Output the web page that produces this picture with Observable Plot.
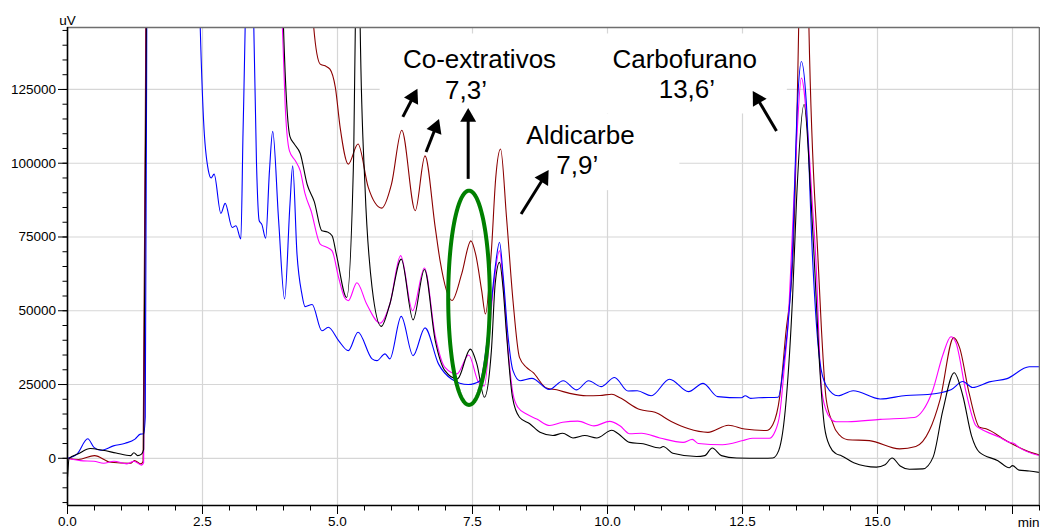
<!DOCTYPE html>
<html>
<head>
<meta charset="utf-8">
<script src="https://cdn.jsdelivr.net/npm/d3@7"></script>
<script src="https://cdn.jsdelivr.net/npm/@observablehq/plot@0.6"></script>
<style>
  html, body { margin: 0; padding: 0; background: #fff; }
  #chart { width: 1040px; height: 528px; }
</style>
</head>
<body>
<div id="chart"></div>
<script>
// Chromatogram traces: [retention time (min), detector signal (uV)]
const blueTrace = [
  [0,0],[0.18,1500],[0.375,6600],[0.49,3700],[0.62,2700],[0.85,4200],[1.07,5100],[1.25,6500],[1.35,8200],[1.41,8300],
  [1.44,14000],[1.47,160000],[1.5,400000],[2.0,600000],[2.35,260000],[2.42,175000],[2.46,144800],[2.52,114400],[2.61,97400],
  [2.66,95000],[2.715,96300],[2.84,83000],[2.92,86400],[3.05,78200],[3.12,78800],[3.21,74300],[3.25,110000],[3.29,146000],
  [3.37,300000],[3.45,146000],[3.5,100000],[3.55,80500],[3.6,79200],[3.67,74600],[3.74,97400],[3.8,110800],[3.91,80500],
  [4.02,54000],[4.12,86200],[4.17,99100],[4.25,69200],[4.34,55700],[4.4,51400],[4.53,52100],[4.71,43200],[4.83,44400],
  [5.02,39900],[5.2,36500],[5.38,42700],[5.64,33700],[5.73,33100],[5.88,35400],[5.97,33700],[6.18,48100],[6.4,34800],
  [6.62,44200],[6.87,32000],[7.11,26900],[7.42,25000],[7.64,26300],[7.82,47800],[7.92,64700],[8.0,73200],[8.07,61300],
  [8.16,41000],[8.25,29700],[8.38,26300],[8.6,27100],[8.92,23300],[9.18,26300],[9.43,23200],[9.65,26300],[9.88,24300],
  [10.13,27400],[10.38,22800],[10.55,22900],[10.81,21200],[11.15,26800],[11.5,22600],[11.77,25400],[12.04,20900],
  [12.48,20500],[12.55,21200],[12.65,20300],[12.8,20500],[13.16,20700],[13.27,33100],[13.42,66900],[13.52,121100],
  [13.59,134500],[13.68,121100],[13.8,66900],[13.93,33100],[14.05,24600],[14.27,21200],[14.55,22900],[15.05,20100],
  [15.53,21300],[15.93,21600],[16.36,23200],[16.58,26000],[16.76,24000],[17.07,25900],[17.4,27000],[17.81,31000],[18,31000]
];

const blackTrace = [
  [0,-6500],[0.03,0],[0.2,1500],[0.42,3300],[0.65,2700],[0.9,1800],[1.17,900],[1.23,1900],[1.3,900],[1.37,1400],[1.41,3000],
  [1.46,150000],[1.5,400000],[2.5,600000],[3.88,260000],[3.97,165000],[4.0,146000],[4.06,120000],[4.12,109000],[4.2,106500],
  [4.31,103300],[4.44,92700],[4.57,87000],[4.71,77100],[4.81,76700],[4.9,75400],[4.98,69000],[5.17,54500],[5.3,103100],
  [5.33,146000],[5.375,260000],[5.42,146000],[5.51,91800],[5.64,57900],[5.81,44700],[5.97,52300],[6.18,67500],[6.4,46900],
  [6.61,64000],[6.81,39900],[6.99,29700],[7.22,26900],[7.46,37000],[7.58,32000],[7.72,20700],[7.85,36500],[7.92,59100],
  [8.0,66400],[8.07,56800],[8.13,42100],[8.24,20700],[8.37,13900],[8.56,11700],[8.75,8800],[8.99,7700],[9.17,8500],
  [9.36,6900],[9.58,7700],[9.8,6900],[10.08,9500],[10.2,8300],[10.41,5400],[10.66,4900],[10.97,3500],[11.03,4000],
  [11.21,1700],[11.65,600],[11.8,900],[11.94,3500],[12.11,900],[12.39,100],[12.88,0],[13.06,100],[13.17,2600],[13.31,20000],
  [13.43,55700],[13.5,87300],[13.64,119900],[13.77,87300],[13.83,66900],[13.93,30800],[14.02,10500],[14.12,4000],
  [14.23,1600],[14.33,900],[14.56,-1500],[14.98,-3000],[15.14,-2200],[15.27,100],[15.42,-2600],[15.59,-3700],[15.84,-3600],
  [16.03,400],[16.21,16200],[16.42,29000],[16.58,21200],[16.74,7700],[16.89,2000],[17.23,-800],[17.44,-3200],[17.5,-2500],
  [17.62,-4000],[17.81,-4300],[18,-4800]
];

const magentaTrace = [
  [0,0],[0.24,-800],[0.49,-1000],[0.67,-1700],[0.86,-1000],[1.1,-1900],[1.23,-1000],[1.37,-2300],[1.41,-1500],
  [1.46,150000],[1.5,400000],[2.5,600000],[3.88,260000],[3.95,165000],[3.98,146000],[4.03,120000],[4.11,104200],
  [4.22,100800],[4.31,97400],[4.4,89600],[4.51,83900],[4.68,72600],[4.8,71500],[4.9,70300],[5.02,61300],[5.13,54500],
  [5.2,53400],[5.36,59500],[5.54,52300],[5.79,45800],[5.97,52300],[6.17,68700],[6.39,50000],[6.61,64500],[6.81,41500],
  [6.99,30800],[7.21,28600],[7.43,35000],[7.61,25800],[7.72,24500],[7.88,56800],[8.0,70300],[8.07,59100],[8.16,36500],
  [8.25,21800],[8.34,17300],[8.5,15000],[8.69,13300],[8.93,11100],[9.17,12200],[9.45,12600],[9.75,11000],[10.04,12500],
  [10.23,11000],[10.41,8300],[10.63,8500],[10.97,6900],[11.4,5400],[11.57,6400],[11.68,5000],[12.13,4600],[12.51,6000],
  [12.69,6800],[13.0,6800],[13.1,9000],[13.19,15000],[13.28,32000],[13.34,44400],[13.4,66900],[13.45,87300],[13.51,109900],
  [13.59,128900],[13.71,109900],[13.79,87300],[13.86,66900],[13.96,24100],[14.05,16200],[14.14,13300],[14.23,12400],
  [14.45,12400],[15.05,13200],[15.68,13800],[15.84,16200],[16.02,22900],[16.21,35000],[16.36,41200],[16.45,39300],
  [16.64,22400],[16.82,11100],[16.91,10000],[17.26,7100],[17.44,5400],[17.52,5100],[17.62,3700],[18,900]
];

const darkredTrace = [
  [0,0],[0.2,-400],[0.5,900],[0.8,-1350],[1.17,-1700],[1.24,-800],[1.36,-1900],[1.4,-1000],[1.45,150000],[1.5,400000],
  [3.0,600000],[4.4,230000],[4.5,165000],[4.56,146000],[4.68,133600],[4.77,133000],[4.86,131900],[4.96,125700],
  [5.05,112000],[5.2,99700],[5.38,106500],[5.57,91800],[5.82,84800],[6.0,92900],[6.19,111200],[6.44,83900],[6.62,102500],
  [6.81,78200],[6.9,66900],[7.12,53500],[7.3,62500],[7.47,73700],[7.56,69000],[7.67,56800],[7.74,48900],[7.85,70300],
  [7.93,95000],[8.02,104800],[8.13,81600],[8.25,53400],[8.37,34200],[8.5,30800],[8.62,29100],[8.87,23800],[9.06,23200],
  [9.3,22000],[9.61,21200],[9.86,21300],[10.08,21700],[10.23,20500],[10.6,16500],[10.88,15600],[11.18,12500],[11.49,10100],
  [11.86,8800],[12.24,11200],[12.54,9900],[12.94,9400],[13.06,11400],[13.19,21000],[13.3,42000],[13.43,66900],[13.54,146000],
  [13.63,260000],[13.73,146000],[13.9,66900],[13.96,44400],[14.05,20000],[14.17,12000],[14.23,9400],[14.45,6300],
  [14.85,6000],[15.41,3200],[15.71,4000],[15.96,9400],[16.16,20000],[16.41,40900],[16.52,37500],[16.7,21800],[16.89,10500],
  [17.01,10000],[17.38,6000],[17.75,2600],[18,1100]
];

// Axis ticks
const xMajorTicks = [0, 2.5, 5, 7.5, 10, 12.5, 15, 17.5];
const xMinorTicks = d3.range(0, 18.01, 0.5);
const yMajorTicks = [0, 25000, 50000, 75000, 100000, 125000];
const yMinorTicks = d3.range(-15000, 146000, 5000);

// Annotations
const labelText = ["Co-extrativos", "7,3\u2019", "Aldicarbe", "7,9\u2019", "Carbofurano", "13,6\u2019"];
const labelX = [7.63, 7.38, 9.50, 9.44, 11.43, 11.47];
const labelY = [132200, 121700, 106400, 96300, 132300, 122200];

const arrowFrom = [[6.21, 115700], [6.64, 103800], [7.42, 94700], [8.40, 82800], [13.13, 110900]];
const arrowTo   = [[6.48, 125200], [6.88, 115000], [7.42, 118700], [8.91, 97700], [12.69, 124500]];

// White backing panels behind the annotation text: [x1, x2, y1, y2]
const panels = [
  [5.79, 13.33, 116700, 143800],
  [5.20, 11.34, 90700, 116700],
  [7.08, 7.82, 77200, 90700]
];

// Highlight ring round the 7,3' co-extractive peak: centre and radii
const ringCenter = [7.435, 54400];
const ringRadius = [0.385, 36300];

// Layout
const W = 1040, H = 528;
const mTop = 27, mBottom = 23, mLeft = 67, mRight = 1;
const xDomain = [0, 18];
const yDomain = [-16000, 146000];

// Pixel scales matching the plot's, used to orient the arrowheads
const X = d3.scaleLinear(xDomain, [mLeft, W - mRight]);
const Y = d3.scaleLinear(yDomain, [H - mBottom, mTop]);

const headR = 7.6;
const headTip = Math.sqrt(Math.PI) * headR * 0.6824; // centroid-to-tip distance of triangle2
const arrows = arrowFrom.map((a, i) => {
  const b = arrowTo[i];
  const px1 = X(a[0]), py1 = Y(a[1]), px2 = X(b[0]), py2 = Y(b[1]);
  const dx = px2 - px1, dy = py2 - py1, len = Math.hypot(dx, dy);
  const cx = px2 - dx / len * headTip, cy = py2 - dy / len * headTip;
  return {
    x1: a[0], y1: a[1],
    hx: X.invert(cx), hy: Y.invert(cy),
    rotate: Math.atan2(dx, -dy) * 180 / Math.PI
  };
});

const ring = d3.range(0, 360, 2).map(a => {
  const r = a * Math.PI / 180;
  return [ringCenter[0] + ringRadius[0] * Math.cos(r), ringCenter[1] + ringRadius[1] * Math.sin(r)];
});

const traces = [
  {data: darkredTrace, color: "#8b0000"},
  {data: magentaTrace, color: "#ff00ff"},
  {data: blueTrace, color: "#0000ff"},
  {data: blackTrace, color: "#000000"}
];

const labels = labelText.map((t, i) => ({t, x: labelX[i], y: labelY[i]}));

const chart = Plot.plot({
  width: W,
  height: H,
  marginTop: mTop,
  marginBottom: mBottom,
  marginLeft: mLeft,
  marginRight: mRight,
  x: {domain: xDomain},
  y: {domain: yDomain},
  style: {
    fontFamily: "'Liberation Sans', Arial, sans-serif",
    fontSize: "13.5px",
    color: "#000",
    background: "#fff"
  },
  marks: [
    Plot.gridX(xMajorTicks, {stroke: "#d6d6d6", strokeOpacity: 1, strokeWidth: 1.2}),
    Plot.gridY(yMajorTicks, {stroke: "#d6d6d6", strokeOpacity: 1, strokeWidth: 1.2}),
    Plot.rect(panels, {x1: d => d[0], x2: d => d[1], y1: d => d[2], y2: d => d[3], fill: "#fff"}),
    ...traces.map(s => Plot.line(s.data, {
      x: d => d[0], y: d => d[1], stroke: s.color, strokeWidth: 1.1, curve: "monotone-x", clip: true
    })),
    Plot.line(ring, {x: d => d[0], y: d => d[1], stroke: "#008000", strokeWidth: 4, curve: "linear-closed"}),
    Plot.link(arrows, {x1: "x1", y1: "y1", x2: "hx", y2: "hy", stroke: "#000", strokeWidth: 3}),
    Plot.dot(arrows, {x: "hx", y: "hy", symbol: "triangle2", r: headR, fill: "#000", rotate: "rotate"}),
    Plot.text(labels, {
      x: "x", y: "y", text: "t", fontSize: 26, textAnchor: "middle", lineAnchor: "bottom", fill: "#000"
    }),
    Plot.ruleY([yDomain[1]], {stroke: "#6e6e6e", strokeWidth: 1.6}),
    Plot.ruleX([xDomain[1]], {stroke: "#6e6e6e", strokeWidth: 1.6}),
    Plot.ruleX([xDomain[0]], {stroke: "#000", strokeWidth: 1.6}),
    Plot.ruleY([yDomain[0]], {stroke: "#000", strokeWidth: 1.6}),
    Plot.axisX(xMajorTicks, {
      tickSize: 9, tickPadding: 2, label: null,
      tickFormat: d => d === 17.5 ? "" : d.toFixed(1)
    }),
    Plot.axisX(xMinorTicks, {tickSize: 5.5, tickFormat: () => "", label: null}),
    Plot.axisY(yMajorTicks, {tickSize: 9, tickPadding: 2.5, tickFormat: d => String(d), label: null}),
    Plot.axisY(yMinorTicks, {tickSize: 4.5, tickFormat: () => "", label: null}),
    Plot.text(["uV"], {frameAnchor: "top-left", textAnchor: "middle", lineAnchor: "bottom", dy: -3, fontSize: 13.5}),
    Plot.text(["min"], {frameAnchor: "bottom-right", textAnchor: "end", lineAnchor: "bottom", dy: 21, fontSize: 13.5})
  ]
});

document.getElementById("chart").appendChild(chart);
</script>
</body>
</html>
